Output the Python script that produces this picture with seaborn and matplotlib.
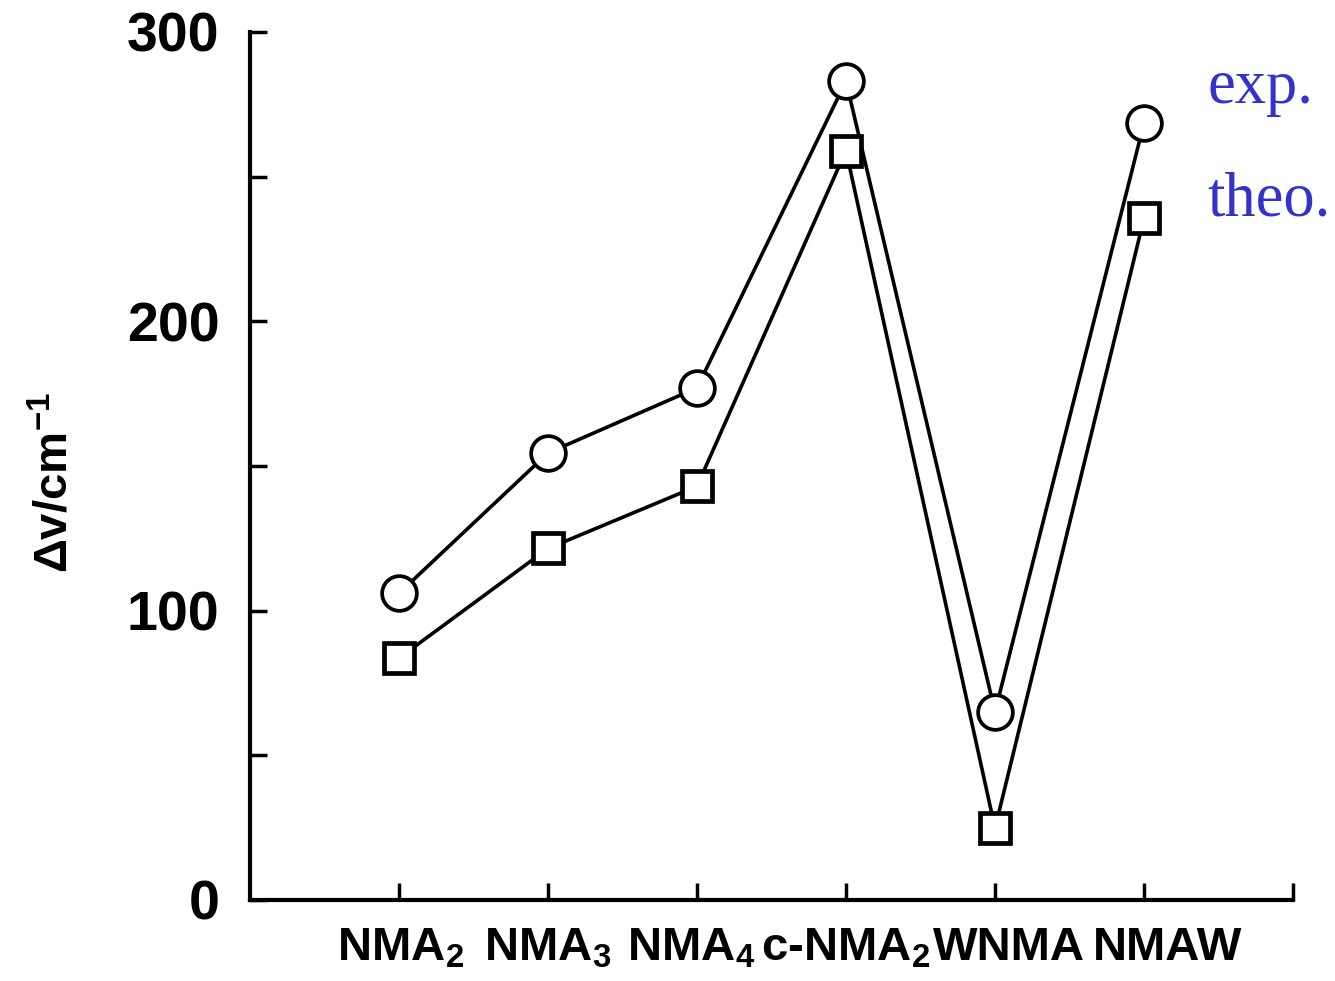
import matplotlib
matplotlib.use("Agg")
import matplotlib.pyplot as plt
import matplotlib.transforms as mtransforms
import seaborn as sns
import pandas as pd

categories = ["NMA$_2$", "NMA$_3$", "NMA$_4$", "c-NMA$_2$", "WNMA", "NMAW"]
exp_values = [106, 154.5, 177, 283, 65, 268.5]
theo_values = [83.6, 121.5, 143, 259, 24.8, 235.6]
y_ticks = [0, 50, 100, 150, 200, 250, 300]
y_ticklabels = ["0", "", "100", "", "200", "", "300"]

sns.set_theme(style="white")
plt.rcParams["font.family"] = ["Liberation Sans", "DejaVu Sans"]
plt.rcParams["mathtext.default"] = "regular"
plt.rcParams["text.color"] = "black"
plt.rcParams["xtick.color"] = "black"
plt.rcParams["ytick.color"] = "black"

df = pd.DataFrame({
    "pos": list(range(len(categories))) * 2,
    "value": exp_values + theo_values,
    "series": ["exp."] * len(categories) + ["theo."] * len(categories),
})

fig = plt.figure(figsize=(13.35, 9.81), dpi=100)
ax = fig.add_axes([250 / 1335, 81 / 981, 1043 / 1335, 868 / 981])

sns.lineplot(data=df, x="pos", y="value", hue="series", style="series",
             markers={"exp.": "o", "theo.": "s"}, dashes=False,
             palette={"exp.": "black", "theo.": "black"},
             linewidth=2.6, ax=ax, legend=False, zorder=2)
for line, ms, mew in zip(ax.lines, [25, 22], [2.7, 3.4]):
    line.set_markersize(ms)
    line.set_markerfacecolor("white")
    line.set_markeredgecolor("black")
    line.set_markeredgewidth(mew)

ax.set_xlim(-1, 6)
ax.set_ylim(0, 300)
ax.set_xticks(list(range(len(categories) + 1)))
ax.set_xticklabels(categories + [""], fontsize=34, fontweight="bold", color="black")
ax.set_yticks(y_ticks)
ax.set_yticklabels(y_ticklabels, fontsize=40, fontweight="bold", color="black")
ax.tick_params(axis="both", direction="in", length=12, width=2.5,
               color="black", bottom=True, left=True)
ax.tick_params(axis="x", pad=19)
ax.tick_params(axis="y", pad=22)
ax.set_xlabel("")
ax.set_ylabel("")

# small horizontal nudges of the category labels, as in the original layout
shifts_px = [2, 0, -6, 0, 14, 24, 0]
for lab, dx in zip(ax.get_xticklabels(), shifts_px):
    lab.set_transform(lab.get_transform() +
                      mtransforms.ScaledTranslation(dx / 100, 0, fig.dpi_scale_trans))

for side in ["top", "right"]:
    ax.spines[side].set_visible(False)
for side in ["left", "bottom"]:
    ax.spines[side].set_linewidth(3)
    ax.spines[side].set_color("black")

fig.text(55 / 1335, 1 - 483 / 981, "Δv/cm$^{-1}$", rotation=90,
         ha="center", va="center", fontsize=34, fontweight="bold", color="black")

fig.text(1207 / 1335, 1 - 103 / 981, "exp.", ha="left", va="baseline",
         fontsize=45, color="#3333CC", family=["Liberation Serif", "DejaVu Serif"])
fig.text(1207 / 1335, 1 - 215 / 981, "theo.", ha="left", va="baseline",
         fontsize=45, color="#3333CC", family=["Liberation Serif", "DejaVu Serif"])

fig.savefig("out.png", dpi=100, facecolor="white")
